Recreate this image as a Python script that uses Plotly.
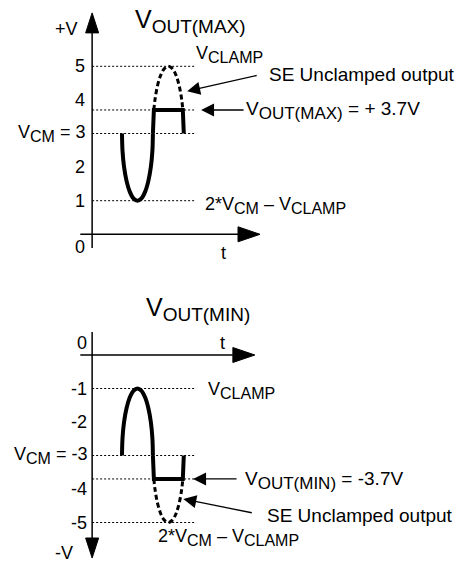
import plotly.graph_objects as go

W, H = 458, 562
FONT = "Liberation Sans, Arial, Helvetica, sans-serif"

# ---- signal levels (V) ----
VCM_POS = 3.0
VCLAMP_POS = 5.0
VOUT_MAX = 3.7
VLOW_POS = 1.0          # 2*VCM - VCLAMP
VCM_NEG = -3.0
VCLAMP_NEG = -1.0
VOUT_MIN = -3.7
VLOW_NEG = -5.0         # 2*VCM - VCLAMP

# ---- one period of the single-ended output (rounded half-cycles) ----
WAVE_T = [0, 0.10, 0.40, 0.88, 1.50, 2.22, 3.0, 3.78, 4.50, 5.12, 5.60, 5.90, 6.0,
          6.10, 6.40, 6.88, 7.50, 8.22, 9.0, 9.78, 10.50, 11.12, 11.60, 11.90, 12.0]
WAVE_POS_V = [3.0, 2.48, 2.0, 1.59, 1.27, 1.07, 1.0, 1.07, 1.27, 1.59, 2.0, 2.48, 3.0,
              3.52, 4.0, 4.41, 4.73, 4.93, 5.0, 4.93, 4.73, 4.41, 4.0, 3.52, 3.0]
WAVE_NEG_V = [-3.0, -2.48, -2.0, -1.59, -1.27, -1.07, -1.0, -1.07, -1.27, -1.59, -2.0, -2.48, -3.0,
              -3.52, -4.0, -4.41, -4.73, -4.93, -5.0, -4.93, -4.73, -4.41, -4.0, -3.52, -3.0]
CLAMP_T = [6.19, 11.81]  # where the output reaches the clamp level

# ---- vertical tick labels ----
TICKS_POS = [5, 4, 3, 2, 1]
TICK_TEXT_POS = ["5", "4", "V<sub><span style='font-size:16px'>CM</span></sub> = 3", "2", "1"]
TICKS_NEG = [-1, -2, -3, -4, -5]
TICK_TEXT_NEG = ["-1", "-2", "V<sub><span style='font-size:16px'>CM</span></sub> = -3", "-4", "-5"]

# ---- scales ----
X_ORIGIN_PX = 122.0
PX_PER_T = 5.15
TOP_ZERO_PX, TOP_PX_PER_V = 234.3, 33.6
BOT_ZERO_PX, BOT_PX_PER_V = 355.0, 33.5

x_range = [-X_ORIGIN_PX / PX_PER_T, (W - X_ORIGIN_PX) / PX_PER_T]
top_range = [(TOP_ZERO_PX - H / 2) / TOP_PX_PER_V, TOP_ZERO_PX / TOP_PX_PER_V]
bot_range = [(BOT_ZERO_PX - H) / BOT_PX_PER_V, (BOT_ZERO_PX - H / 2) / BOT_PX_PER_V]

AXIS_T = -5.8            # time of the vertical axis line
REF_END_T = 14.2         # end of the dotted reference lines


def sub(main, small, size):
    return f"{main}<sub><span style='font-size:{size}px'>{small}</span></sub>"


fig = go.Figure()

panels = [
    dict(xr="x", yr="y", v=WAVE_POS_V, clamp=VOUT_MAX,
         levels=[VCLAMP_POS, VOUT_MAX, VCM_POS, VLOW_POS]),
    dict(xr="x2", yr="y2", v=WAVE_NEG_V, clamp=VOUT_MIN,
         levels=[VCLAMP_NEG, VCM_NEG, VOUT_MIN, VLOW_NEG]),
]

shapes = []
for p in panels:
    # dotted reference levels
    for lv in p["levels"]:
        shapes.append(dict(type="line", xref=p["xr"], yref=p["yr"], x0=AXIS_T, x1=REF_END_T,
                           y0=lv, y1=lv, line=dict(color="black", width=1, dash="2px,2px")))
    v = p["v"]
    # first half-cycle, solid
    fig.add_trace(go.Scatter(x=WAVE_T[:13], y=v[:13], mode="lines", xaxis=p["xr"], yaxis=p["yr"],
                             line=dict(color="black", width=4, shape="spline"),
                             hoverinfo="skip"))
    # clamped half-cycle, solid
    fig.add_trace(go.Scatter(x=[WAVE_T[12], CLAMP_T[0], CLAMP_T[1], WAVE_T[24]],
                             y=[v[12], p["clamp"], p["clamp"], v[24]], mode="lines",
                             xaxis=p["xr"], yaxis=p["yr"],
                             line=dict(color="black", width=4), hoverinfo="skip"))
    # unclamped portion, dashed
    fig.add_trace(go.Scatter(x=[CLAMP_T[0]] + WAVE_T[14:23] + [CLAMP_T[1]],
                             y=[p["clamp"]] + v[14:23] + [p["clamp"]], mode="lines",
                             xaxis=p["xr"], yaxis=p["yr"],
                             line=dict(color="black", width=3, dash="5px,3px", shape="spline"),
                             hoverinfo="skip"))


def head(xr, yr, ppv, tip_t, tip_v, direction, length=21, half=7):
    dl_t, hw_t = length / PX_PER_T, half / PX_PER_T
    dl_v, hw_v = length / ppv, half / ppv
    if direction == "right":
        pts = [(tip_t, tip_v), (tip_t - dl_t, tip_v + hw_v), (tip_t - dl_t, tip_v - hw_v)]
        base = (tip_t - dl_t, tip_v)
    elif direction == "up":
        pts = [(tip_t, tip_v), (tip_t - hw_t, tip_v - dl_v), (tip_t + hw_t, tip_v - dl_v)]
        base = (tip_t, tip_v - dl_v)
    else:
        pts = [(tip_t, tip_v), (tip_t - hw_t, tip_v + dl_v), (tip_t + hw_t, tip_v + dl_v)]
        base = (tip_t, tip_v + dl_v)
    path = "M {} {} L {} {} L {} {} Z".format(*[c for pt in pts for c in pt])
    shapes.append(dict(type="path", xref=xr, yref=yr, path=path,
                       fillcolor="black", line=dict(color="black", width=1)))
    return base


def axis_arrow(xr, yr, ppv, t0, v0, t1, v1, direction, length=21, half=7):
    bt, bv = head(xr, yr, ppv, t1, v1, direction, length, half)
    shapes.append(dict(type="line", xref=xr, yref=yr, x0=t0, y0=v0, x1=bt, y1=bv,
                       line=dict(color="black", width=1.5)))


# top panel axes
axis_arrow("x", "y", TOP_PX_PER_V, AXIS_T, -0.41, AXIS_T, 6.59, "up", 20, 6.5)
axis_arrow("x", "y", TOP_PX_PER_V, -8.1, 0, 26.8, 0, "right", 22, 7.5)
# bottom panel axes
axis_arrow("x2", "y2", BOT_PX_PER_V, AXIS_T, 0.69, AXIS_T, -6.06, "down", 20, 6.5)
axis_arrow("x2", "y2", BOT_PX_PER_V, -8.1, 0, 25.8, 0, "right", 22, 7.5)

annotations = []


def text(s, xpx, ypx, size=18, xanchor="left", yanchor="middle"):
    annotations.append(dict(text=s, x=xpx / W, y=1 - ypx / H, xref="paper", yref="paper",
                            xanchor=xanchor, yanchor=yanchor, showarrow=False,
                            font=dict(family=FONT, size=size, color="black")))


def tick_labels(vals, labels, yr, xpx):
    for val, lab in zip(vals, labels):
        annotations.append(dict(text=lab, x=xpx / W, y=val, xref="paper", yref=yr,
                                xanchor="right", yanchor="middle", showarrow=False,
                                font=dict(family=FONT, size=18, color="black")))


def pointer(xr, yr, t, v, ax, ay):
    annotations.append(dict(text="", x=t, y=v, xref=xr, yref=yr, ax=ax, ay=ay,
                            showarrow=True, arrowhead=2, arrowsize=2, arrowwidth=1.3,
                            arrowcolor="black"))


# ---- top panel text ----
text(sub("V", "OUT(MAX)", 19), 190, 21, size=25, xanchor="center")
text("+V", 66, 29, xanchor="center")
tick_labels(TICKS_POS, TICK_TEXT_POS, "y", 87)
text("0", 80, 247, xanchor="center")
text("t", 223, 253, xanchor="center")
text(sub("V", "CLAMP", 16), 194, 55)
text("SE Unclamped output", 267, 75, size=19)
text(sub("V", "OUT(MAX)", 17) + " = + 3.7V", 244, 110, size=19)
text("2*" + sub("V", "CM", 16) + " \u2013 " + sub("V", "CLAMP", 16), 203, 205)
pointer("x", "y", 12.65, 4.26, 71, -16)
pointer("x", "y", 15.35, VOUT_MAX, 44, 0)

# ---- bottom panel text ----
text(sub("V", "OUT(MIN)", 19), 198, 309, size=25, xanchor="center")
text("0", 82, 343, xanchor="center")
text("t", 222, 343, xanchor="center")
tick_labels(TICKS_NEG, TICK_TEXT_NEG, "y2", 89)
text("-V", 64, 553, xanchor="center")
text(sub("V", "CLAMP", 16), 206, 390)
text(sub("V", "OUT(MIN)", 17) + " = -3.7V", 243, 480, size=19)
text("SE Unclamped output", 265, 515, size=19)
text("2*" + sub("V", "CM", 16) + " \u2013 " + sub("V", "CLAMP", 16), 228, 537, xanchor="center")
pointer("x2", "y2", 13.8, VOUT_MIN, 45, 0)
pointer("x2", "y2", 11.9, -4.3, 70, 14)

fig.update_layout(
    width=W, height=H, margin=dict(l=0, r=0, t=0, b=0),
    paper_bgcolor="white", plot_bgcolor="white", showlegend=False,
    xaxis=dict(range=x_range, domain=[0, 1], anchor="y", visible=False, fixedrange=True),
    yaxis=dict(range=top_range, domain=[0.5, 1], anchor="x", visible=False, fixedrange=True),
    xaxis2=dict(range=x_range, domain=[0, 1], anchor="y2", visible=False, fixedrange=True),
    yaxis2=dict(range=bot_range, domain=[0, 0.5], anchor="x2", visible=False, fixedrange=True),
    shapes=shapes, annotations=annotations,
)

fig.write_html("out.html", config={"displayModeBar": False})
